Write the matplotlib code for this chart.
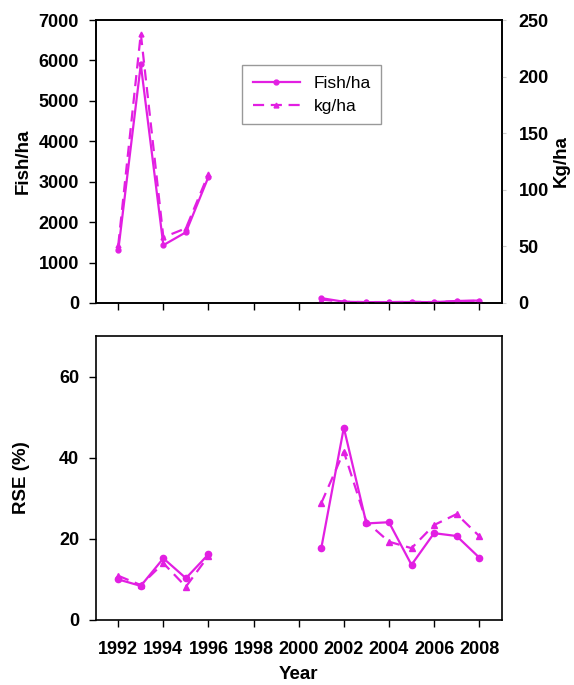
'''Fish density and RSE by year'''

import numpy as np
import matplotlib.pyplot as plt

plt.rcParams['font.family'] = ['Liberation Sans', 'DejaVu Sans']

# data (NaN for the years with no survey)
years = [1992, 1993, 1994, 1995, 1996, 1997, 1998, 1999, 2000,
         2001, 2002, 2003, 2004, 2005, 2006, 2007, 2008]
fish_ha = [1300, 5900, 1430, 1750, 3120, np.nan, np.nan, np.nan, np.nan,
           120, 30, 20, 20, 25, 20, 50, 60]
kg_ha = [51, 238, 58, 66, 114, np.nan, np.nan, np.nan, np.nan,
         3, 1, 0.8, 0.8, 1, 0.8, 1.5, 2]
rse_fish = [10.0, 8.4, 15.2, 10.3, 16.2, np.nan, np.nan, np.nan, np.nan,
            17.7, 47.4, 23.8, 24.1, 13.6, 21.4, 20.7, 15.4]
rse_kg = [10.9, 8.6, 14.0, 8.2, 15.8, np.nan, np.nan, np.nan, np.nan,
          28.8, 41.5, 24.2, 19.3, 17.7, 23.4, 26.1, 20.7]
xticks = [1992, 1994, 1996, 1998, 2000, 2002, 2004, 2006, 2008]

col = '#e21fe2'
fs = 13

fig = plt.figure(figsize=(5.74, 6.85), dpi=100)

# top panel: fish/ha and kg/ha
ax = fig.add_axes([0.1667, 0.5577, 0.7074, 0.4131])
ax2 = ax.twinx()
l1, = ax.plot(years, fish_ha, '-', color=col, lw=1.6, marker='o', ms=3.5,
              label='Fish/ha')
l2, = ax2.plot(years, kg_ha, '--', color=col, lw=1.6, marker='^', ms=3.5,
               dashes=(5, 3), label='kg/ha')
ax.set_xlim(1991, 2009)
ax.set_ylim(0, 7000)
ax2.set_ylim(0, 250)
ax.set_yticks(range(0, 7001, 1000))
ax2.set_yticks(range(0, 251, 50))
ax.set_xticks(xticks)
ax.set_xticklabels([])
ax.set_ylabel('Fish/ha', fontsize=13.5, fontweight='bold', labelpad=5)
ax2.set_ylabel('Kg/ha', fontsize=13.5, fontweight='bold', labelpad=3)
ax.tick_params(axis='both', direction='out', length=5, width=1,
               labelsize=fs)
ax.tick_params(axis='y', pad=7)
ax2.tick_params(axis='y', direction='out', length=3, width=0.8,
                color='#cccccc', labelsize=fs, pad=9)
for t in ax.get_yticklabels() + ax2.get_yticklabels():
    t.set_fontweight('bold')
leg = ax.legend([l1, l2], ['Fish/ha', 'kg/ha'], loc='upper left',
                bbox_to_anchor=(0.34, 0.87), fontsize=12.5, fancybox=False,
                framealpha=1, handlelength=2.7, borderpad=0.6,
                labelspacing=0.45)
leg.get_frame().set_edgecolor('#999999')

# bottom panel: RSE
bx = fig.add_axes([0.1667, 0.0949, 0.7074, 0.4146])
bx.plot(years, rse_fish, '-', color=col, lw=1.6, marker='o', ms=4.5)
bx.plot(years, rse_kg, '--', color=col, lw=1.6, marker='^', ms=4,
        dashes=(5, 3))
bx.set_xlim(1991, 2009)
bx.set_ylim(0, 70)
bx.set_yticks([0, 20, 40, 60])
bx.set_xticks(xticks)
bx.set_ylabel('RSE (%)', fontsize=13.5, fontweight='bold', labelpad=21)
bx.set_xlabel('Year', fontsize=13.5, fontweight='bold', labelpad=6)
bx.tick_params(axis='both', direction='out', length=5, width=1,
               labelsize=fs)
bx.tick_params(axis='x', pad=10)
bx.tick_params(axis='y', pad=7)
for t in bx.get_xticklabels() + bx.get_yticklabels():
    t.set_fontweight('bold')

for a in [ax, ax2, bx]:
    for s in a.spines.values():
        s.set_linewidth(1.2)

plt.savefig('out.png', dpi=100)
